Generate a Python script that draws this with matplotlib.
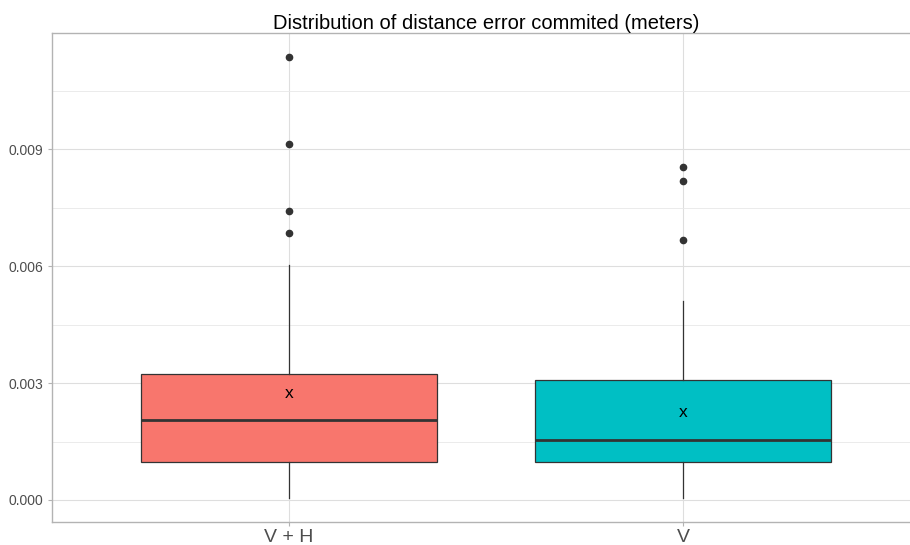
import numpy as np
import matplotlib
matplotlib.use("Agg")
import matplotlib.pyplot as plt

plt.rcParams['font.family'] = ['Liberation Sans', 'DejaVu Sans']

# datos
grupos = ['V + H', 'V']
colores = ['#F8766D', '#00BFC4']
q1 = [0.000985, 0.000985]
mediana = [0.00204, 0.00155]
q3 = [0.003225, 0.003070]
bigote_inf = [0.00004, 0.00004]
bigote_sup = [0.006025, 0.005095]
medias = [0.002735, 0.002245]
atipicos = [[0.011380, 0.009125, 0.007405, 0.006845],
            [0.008555, 0.008195, 0.006670]]

fig = plt.figure(figsize=(9.1, 5.45), dpi=100)
# el panel sigue mas alla del borde derecho (recortado en el original)
ax = fig.add_axes([52 / 910, 23 / 545, (910 - 52) / 910, (522 - 33) / 545])

stats = []
for i in range(len(grupos)):
    stats.append({'med': mediana[i], 'q1': q1[i], 'q3': q3[i],
                  'whislo': bigote_inf[i], 'whishi': bigote_sup[i],
                  'fliers': atipicos[i], 'label': grupos[i]})

pos = np.arange(1, len(grupos) + 1)
bp = ax.bxp(stats, positions=pos, widths=0.75, patch_artist=True,
            showcaps=False, showfliers=True,
            boxprops=dict(edgecolor='#333333', linewidth=0.9),
            medianprops=dict(color='#333333', linewidth=2.0),
            whiskerprops=dict(color='#333333', linewidth=0.9),
            flierprops=dict(marker='o', markerfacecolor='#333333',
                            markeredgecolor='#333333', markersize=4.5))
for caja, c in zip(bp['boxes'], colores):
    caja.set_facecolor(c)
for i, p in enumerate(pos):
    ax.text(p, medias[i], 'x', ha='center', va='center', fontsize=12.5,
            color='black', zorder=5)

ax.set_xlim(0.4, 2.574)
ax.set_ylim(-0.000565, 0.011985)
ax.set_yticks([0.0, 0.003, 0.006, 0.009])
ax.set_yticklabels(['0.000', '0.003', '0.006', '0.009'])
ax.set_yticks([0.0015, 0.0045, 0.0075, 0.0105], minor=True)
ax.set_xticks(pos)
ax.set_xticklabels(grupos)

ax.grid(True, which='major', color='#DEDEDE', linewidth=0.8, zorder=0)
ax.grid(True, which='minor', axis='y', color='#E8E8E8', linewidth=0.6, zorder=0)
ax.set_axisbelow(True)
for s in ax.spines.values():
    s.set_color('#B3B3B3')
    s.set_linewidth(1.0)
ax.spines['right'].set_visible(False)
ax.tick_params(axis='y', which='major', labelsize=10, labelcolor='#4D4D4D',
               color='#B3B3B3', length=3)
ax.tick_params(axis='x', which='major', labelsize=14, labelcolor='#4D4D4D',
               color='#B3B3B3', length=3, pad=2)
ax.tick_params(which='minor', length=0)

ax.set_title('Distribution of distance error commited (meters)', fontsize=14.5,
             color='black', x=(486 - 52) / (910 - 52), pad=3)

fig.savefig('out.png', dpi=100)
